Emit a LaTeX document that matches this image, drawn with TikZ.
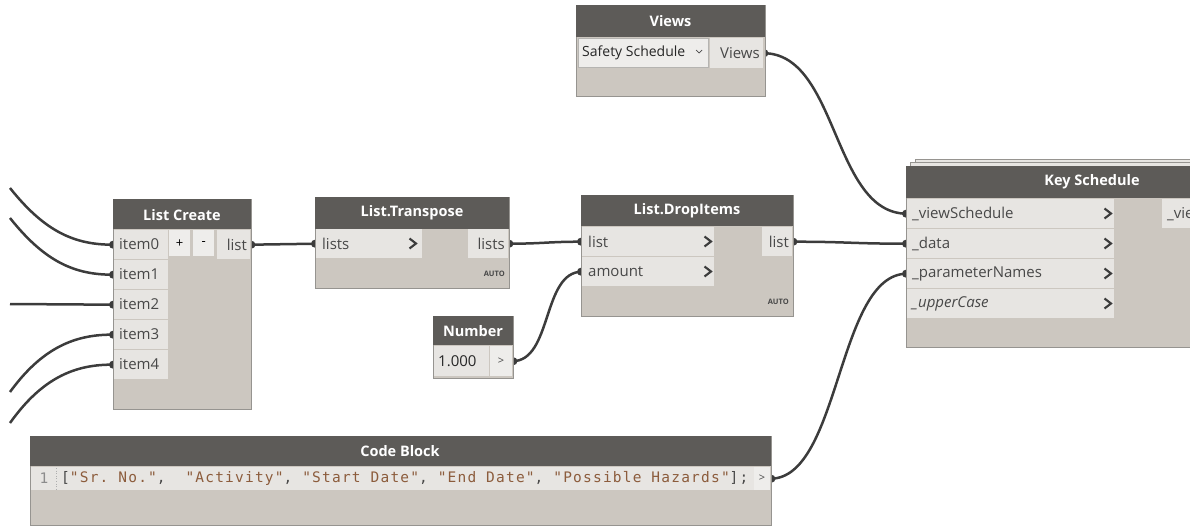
\documentclass[tikz,border=0pt]{standalone}
\usepackage{fontspec}
\setmainfont{Open Sans}
\newfontfamily\codefont[LetterSpace=8.3]{DejaVu Sans Mono}
\pgfdeclarelayer{wires}
\pgfsetlayers{wires,main}
\definecolor{hdr}{RGB}{93,91,88}
\definecolor{bodyc}{RGB}{204,199,192}
\definecolor{portc}{RGB}{231,229,226}
\definecolor{bord}{RGB}{150,148,144}
\definecolor{wirec}{RGB}{60,60,60}
\definecolor{ptxt}{RGB}{72,72,72}
\definecolor{strc}{RGB}{140,92,60}
\definecolor{btnc}{RGB}{238,237,235}
\definecolor{numc}{RGB}{140,140,140}
\tikzset{
  box/.style={draw=bord, line width=0.8pt, fill=bodyc, inner sep=0, anchor=north west},
  hdrbox/.style={fill=hdr, inner sep=0, anchor=north west},
  port/.style={fill=portc, inner sep=0, anchor=north west},
  btn/.style={fill=btnc, inner sep=0, anchor=north west},
  ptext/.style={inner sep=0, text=ptxt, font=\fontsize{15}{18}\selectfont},
  htext/.style={inner sep=0, text=white, font=\fontsize{14.5}{17}\selectfont\bfseries},
  smalltext/.style={inner sep=0, text=ptxt, font=\fontsize{11}{13}\selectfont},
  autot/.style={inner sep=0, text=ptxt, font=\fontsize{7.5}{9}\selectfont\bfseries, anchor=east},
  chevst/.style={draw=wirec, line width=2.1pt},
  wire/.style={draw=wirec, line width=2.5pt},
}
\newcommand\chevxy[2]{\draw[chevst] (#1-3.5,#2-5) -- (#1+3,#2) -- (#1-3.5,#2+5);}
\begin{document}
\begin{tikzpicture}[x=1pt,y=-1pt]
\useasboundingbox (0,0) rectangle (1190,527);
\clip (0,0) rectangle (1190,527);

% ---------- Views ----------
\node[box, minimum width=189, minimum height=91] (vwB) at (576,5) {};
\node[hdrbox, minimum width=189, minimum height=32] (vwH) at (576,5) {};
\node[htext] (vwT) at (670.5,21) {Views};
\node[btn, draw=bord!70, line width=0.5pt, minimum width=130, minimum height=29] (vwDD) at (578,38) {};
\node[inner sep=0, anchor=west, text=black!85, font=\fontsize{14}{16}\selectfont] (vwDDt) at (582,52.5) {Safety Schedule};
\draw[draw=ptxt, line width=0.7pt] (696,50) -- (699,53) -- (702,50);
\node[port, minimum width=53, minimum height=30] (vwOut) at (710,38) {};
\node[ptext, anchor=east] (vwOutT) at (760,53) {Views};

% ---------- List Create ----------
\node[box, minimum width=138, minimum height=210] (lcB) at (113,199) {};
\node[hdrbox, minimum width=138, minimum height=30] (lcH) at (113,199) {};
\node[htext] (lcT) at (182,215) {List Create};
\foreach \i in {0,...,4} {
  \node[port, minimum width=54, minimum height=29] (lc\i) at (114,230+30*\i) {};
  \node[ptext, anchor=west] (lct\i) at (119,244.5+30*\i) {item\i};
}
\node[btn, minimum width=21, minimum height=26] (lcPlus) at (169,230) {};
\node[smalltext, text=black, font=\fontsize{13}{15}\selectfont] at (lcPlus.center) {+};
\node[btn, minimum width=21, minimum height=26] (lcMinus) at (193,230) {};
\node[smalltext, text=black, font=\fontsize{13}{15}\selectfont] at (lcMinus.center) {-};
\node[port, minimum width=33, minimum height=29] (lcOut) at (217,230) {};
\node[ptext, anchor=east] (lcOutT) at (247,244.5) {list};

% ---------- List.Transpose ----------
\node[box, minimum width=194, minimum height=91] (trB) at (315,197) {};
\node[hdrbox, minimum width=194, minimum height=32] (trH) at (315,197) {};
\node[htext] (trT) at (412,213) {List.Transpose};
\node[port, minimum width=106, minimum height=29] (trIn) at (316,229) {};
\node[ptext, anchor=west] (trInT) at (322,243.5) {lists};
\chevxy{413}{243.5}
\node[port, minimum width=40, minimum height=29] (trOut) at (468,229) {};
\node[ptext, anchor=east] (trOutT) at (505,243.5) {lists};
\node[autot] (trA) at (505,274) {AUTO};

% ---------- List.DropItems ----------
\node[box, minimum width=212, minimum height=121] (diB) at (581,195) {};
\node[hdrbox, minimum width=212, minimum height=31] (diH) at (581,195) {};
\node[htext] (diT) at (687,211) {List.DropItems};
\node[port, minimum width=132, minimum height=29] (diIn0) at (582,227) {};
\node[ptext, anchor=west] (diInT0) at (588,241.5) {list};
\chevxy{708}{241.5}
\node[port, minimum width=132, minimum height=29] (diIn1) at (582,257) {};
\node[ptext, anchor=west] (diInT1) at (588,271.5) {amount};
\chevxy{708}{271.5}
\node[port, minimum width=30, minimum height=29] (diOut) at (762,227) {};
\node[ptext, anchor=east] (diOutT) at (789,241.5) {list};
\node[autot] (diA) at (789,302) {AUTO};

% ---------- Number ----------
\node[box, minimum width=80, minimum height=62] (nmB) at (433,316) {};
\node[hdrbox, minimum width=80, minimum height=29] (nmH) at (433,316) {};
\node[htext] (nmT) at (473,331) {Number};
\node[port, minimum width=55, minimum height=30] (nmVal) at (434,346) {};
\node[ptext, anchor=west, text=black!85] (nmValT) at (438,361) {1.000};
\node[btn, minimum width=22, minimum height=30] (nmOut) at (490,346) {};
\node[smalltext] (nmOutT) at (501,361) {>};

% ---------- Key Schedule ----------
\node[port, draw=bord, line width=0.6pt, minimum width=300, minimum height=12] (ksS1) at (915,159) {};
\node[port, draw=bord, line width=0.6pt, minimum width=300, minimum height=10] (ksS2) at (910,162) {};
\node[box, minimum width=300, minimum height=181] (ksB) at (906,166) {};
\node[hdrbox, minimum width=300, minimum height=32] (ksH) at (906,166) {};
\node[htext] (ksT) at (1092,182) {Key Schedule};
\node[port, minimum width=207, minimum height=29] (ksIn0) at (907,199) {};
\node[ptext, anchor=west] at (912,213.5) {\_viewSchedule};
\chevxy{1108}{213.5}
\node[port, minimum width=207, minimum height=29] (ksIn1) at (907,229) {};
\node[ptext, anchor=west] at (912,243.5) {\_data};
\chevxy{1108}{243.5}
\node[port, minimum width=207, minimum height=29] (ksIn2) at (907,259) {};
\node[ptext, anchor=west] at (912,273.5) {\_parameterNames};
\chevxy{1108}{273.5}
\node[port, minimum width=207, minimum height=29] (ksIn3) at (907,289) {};
\node[ptext, anchor=west, font=\fontsize{15}{18}\selectfont\itshape] at (912,303.5) {\_upperCase};
\chevxy{1108}{303.5}
\node[port, minimum width=40, minimum height=29] (ksOut) at (1162,199) {};
\node[ptext, anchor=west] at (1167,213.5) {\_viewSchedule};

% ---------- Code Block ----------
\node[box, minimum width=741, minimum height=89] (cbB) at (30,436) {};
\node[hdrbox, minimum width=741, minimum height=30] (cbH) at (30,436) {};
\node[htext] (cbT) at (400,451) {Code Block};
\node[port, minimum width=723, minimum height=23] (cbRow) at (31,467) {};
\node[inner sep=0, text=numc, font=\codefont\fontsize{14.5}{17}\selectfont] (cbNum) at (44,478) {1};
\draw[numc!70, line width=0.6pt, dotted] (56,468) -- (56,489);
\node[inner sep=0, anchor=west, text=ptxt, font=\codefont\fontsize{14.5}{17}\selectfont] (cbCode) at (61,478)
  {\frenchspacing[\textcolor{strc}{"Sr.\ No."},\ \ \textcolor{strc}{"Activity"},\ \textcolor{strc}{"Start\ Date"},\ \textcolor{strc}{"End\ Date"},\ \textcolor{strc}{"Possible\ Hazards"}];};
\node[btn, minimum width=16, minimum height=23] (cbOut) at (754,467) {};
\node[smalltext] (cbOutT) at (762,478) {>};

% ---------- wires ----------
\coordinate (s0) at (10,188);
\coordinate (s1) at (10,218);
\coordinate (s2) at (10,304);
\coordinate (s3) at (10,392);
\coordinate (s4) at (10,423);
\begin{pgfonlayer}{wires}
  \draw[wire] (s0) .. controls (45,232) and (75,245) .. (lc0.west);
  \draw[wire] (s1) .. controls (45,262) and (75,275) .. (lc1.west);
  \draw[wire] (s2) -- (lc2.west);
  \draw[wire] (s3) .. controls (42,348) and (75,334) .. (lc3.west);
  \draw[wire] (s4) .. controls (42,378) and (75,364) .. (lc4.west);
  \draw[wire] (lcOut.east) -- (trIn.west);
  \draw[wire] (trOut.east) .. controls +(35,0) and +(-35,0) .. (diIn0.west);
  \draw[wire] (nmOut.east) .. controls +(40,0) and +(-40,0) .. (diIn1.west);
  \draw[wire] (diOut.east) .. controls +(55,0) and +(-55,0) .. (ksIn1.west);
  \draw[wire] (vwOut.east) .. controls +(75,0) and +(-75,0) .. (ksIn0.west);
  \draw[wire] (cbOut.east) .. controls +(70,0) and +(-70,0) .. (ksIn2.west);
  \foreach \p in {lc0.west,lc1.west,lc2.west,lc3.west,lc4.west,trIn.west,diIn0.west,diIn1.west,ksIn0.west,ksIn1.west,ksIn2.west}
    \fill[wirec] ([xshift=-1pt]\p) circle (4pt);
  \foreach \p in {lcOut.east,trOut.east,diOut.east,nmOut.east,vwOut.east,cbOut.east}
    \fill[wirec] ([xshift=1pt]\p) circle (4pt);
\end{pgfonlayer}
\end{tikzpicture}
\end{document}
